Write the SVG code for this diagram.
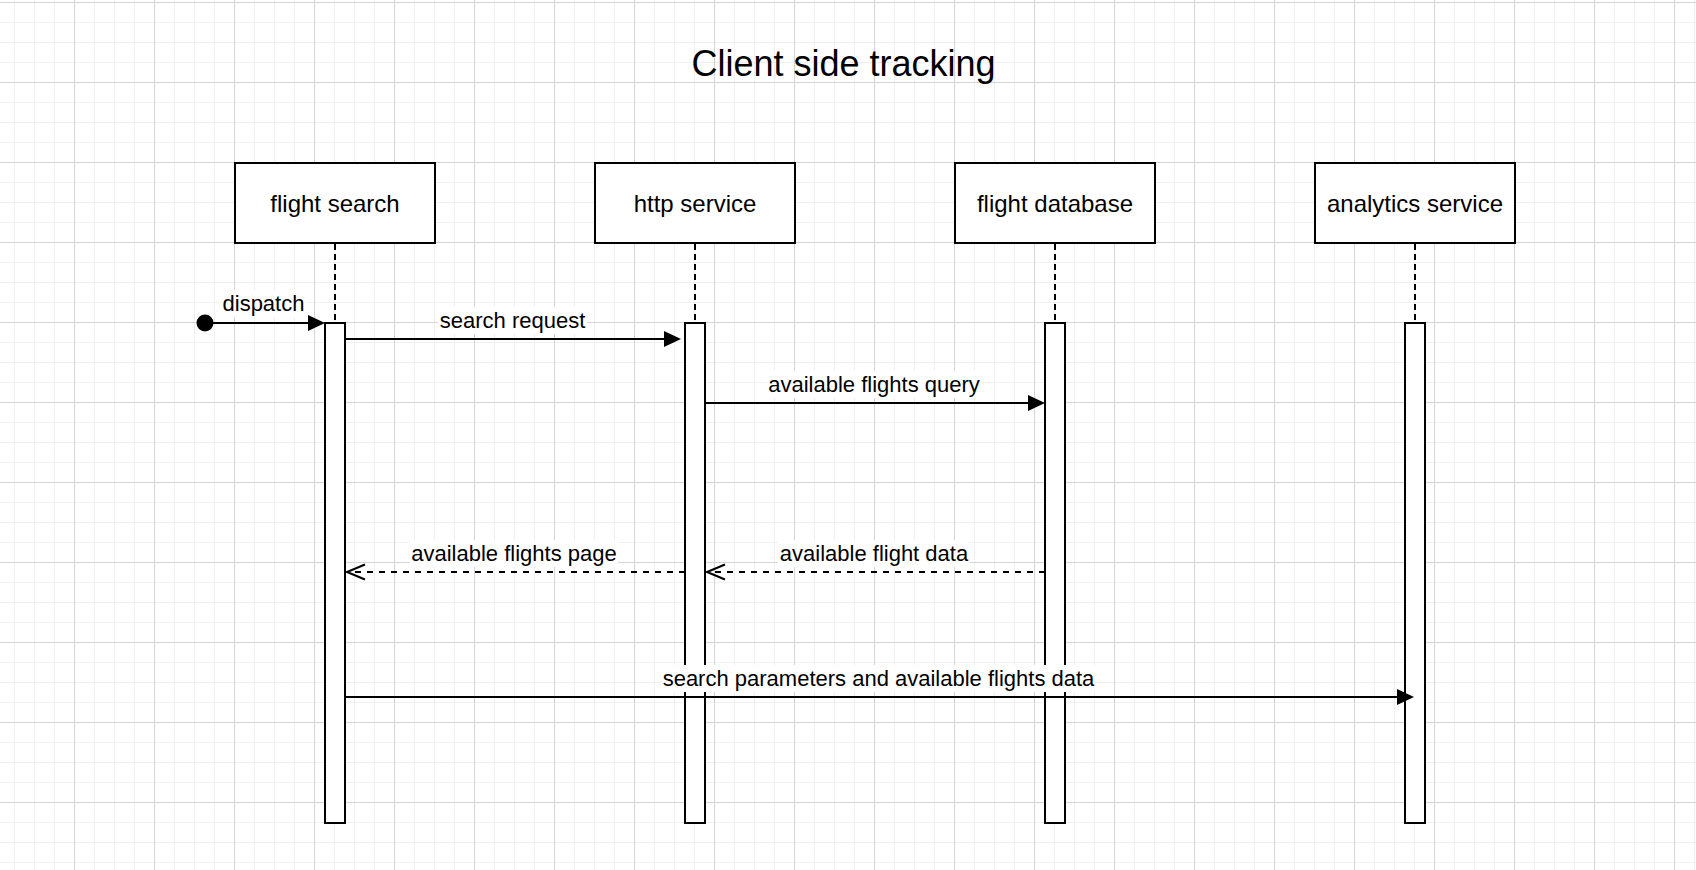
<svg xmlns="http://www.w3.org/2000/svg" width="1696" height="870" viewBox="0 0 1696 870">
  <style>
    text { font-family: "Liberation Sans", Arial, Helvetica, sans-serif; fill: #000; }
    .title { font-size: 36px; text-anchor: middle; }
    .nodelabel { font-size: 24px; text-anchor: middle; }
    .elabel { font-size: 22px; text-anchor: middle; }
    .box { fill: #fff; stroke: #000; stroke-width: 2; }
    .lifeline { fill: none; stroke: #000; stroke-width: 2; stroke-dasharray: 6 4; }
    .msg { fill: none; stroke: #000; stroke-width: 2; }
    .dash { stroke-dasharray: 6 6; }
    .lblbg { fill: #fff; stroke: none; }
  </style>
  <defs>
    <pattern id="grid" patternUnits="userSpaceOnUse" x="74" y="2" width="80" height="80">
      <path d="M20.5,0 V80 M40.5,0 V80 M60.5,0 V80 M0,20.5 H80 M0,40.5 H80 M0,60.5 H80" stroke="#f0f0f0" stroke-width="1" fill="none"/>
      <path d="M0.5,0 V80 M0,0.5 H80" stroke="#d4d4d4" stroke-width="1" fill="none"/>
    </pattern>
    <marker id="block" markerUnits="userSpaceOnUse" viewBox="-1 -9 19 18" markerWidth="19" markerHeight="18" refX="0" refY="0" orient="auto" overflow="visible">
      <path d="M0,-8 L17,0 L0,8 Z" fill="#000" stroke="none"/>
    </marker>
    <marker id="open" markerUnits="userSpaceOnUse" viewBox="-20 -10 22 20" markerWidth="22" markerHeight="20" refX="0" refY="0" orient="auto" overflow="visible">
      <path d="M-18,-7.5 L0,0 L-18,7.5" fill="none" stroke="#000" stroke-width="2"/>
    </marker>
  </defs>

  <rect x="0" y="0" width="1696" height="870" fill="#fff"/>
  <rect x="0" y="0" width="1696" height="870" fill="url(#grid)"/>

  <text class="title" x="843.5" y="76">Client side tracking</text>

  <g id="flight-search">
    <rect class="box" x="235" y="163" width="200" height="80"/>
    <text class="nodelabel" x="335" y="212">flight search</text>
    <line class="lifeline" x1="335" y1="244" x2="335" y2="322"/>
    <rect class="box" x="325" y="323" width="20" height="500"/>
  </g>
  <g id="http-service">
    <rect class="box" x="595" y="163" width="200" height="80"/>
    <text class="nodelabel" x="695" y="212">http service</text>
    <line class="lifeline" x1="695" y1="244" x2="695" y2="322"/>
    <rect class="box" x="685" y="323" width="20" height="500"/>
  </g>
  <g id="flight-database">
    <rect class="box" x="955" y="163" width="200" height="80"/>
    <text class="nodelabel" x="1055" y="212">flight database</text>
    <line class="lifeline" x1="1055" y1="244" x2="1055" y2="322"/>
    <rect class="box" x="1045" y="323" width="20" height="500"/>
  </g>
  <g id="analytics-service">
    <rect class="box" x="1315" y="163" width="200" height="80"/>
    <text class="nodelabel" x="1415" y="212">analytics service</text>
    <line class="lifeline" x1="1415" y1="244" x2="1415" y2="322"/>
    <rect class="box" x="1405" y="323" width="20" height="500"/>
  </g>

  <g id="connectors">
    <!-- dispatch -->
    <circle cx="205" cy="323" r="8.5" fill="#000"/>
    <line class="msg" x1="205" y1="323" x2="308" y2="323" marker-end="url(#block)"/>
    <rect class="lblbg" x="221" y="290" width="85" height="27"/>
    <text class="elabel" x="263.5" y="311">dispatch</text>

    <!-- search request -->
    <line class="msg" x1="345" y1="339" x2="664" y2="339" marker-end="url(#block)"/>
    <rect class="lblbg" x="438" y="307" width="149" height="27"/>
    <text class="elabel" x="512.5" y="328">search request</text>

    <!-- available flights query -->
    <line class="msg" x1="705" y1="403" x2="1028" y2="403" marker-end="url(#block)"/>
    <rect class="lblbg" x="767" y="371" width="214" height="27"/>
    <text class="elabel" x="874" y="392">available flights query</text>

    <!-- available flight data -->
    <line class="msg dash" x1="1045" y1="572" x2="707" y2="572" marker-end="url(#open)"/>
    <rect class="lblbg" x="778" y="540" width="192" height="27"/>
    <text class="elabel" x="874" y="561">available flight data</text>

    <!-- available flights page -->
    <line class="msg dash" x1="685" y1="572" x2="347" y2="572" marker-end="url(#open)"/>
    <rect class="lblbg" x="410" y="540" width="208" height="27"/>
    <text class="elabel" x="514" y="561">available flights page</text>

    <!-- search parameters and available flights data -->
    <line class="msg" x1="345" y1="697" x2="1397" y2="697" marker-end="url(#block)"/>
    <rect class="lblbg" x="661" y="665" width="435" height="27"/>
    <text class="elabel" x="878.5" y="686">search parameters and available flights data</text>
  </g>
</svg>
